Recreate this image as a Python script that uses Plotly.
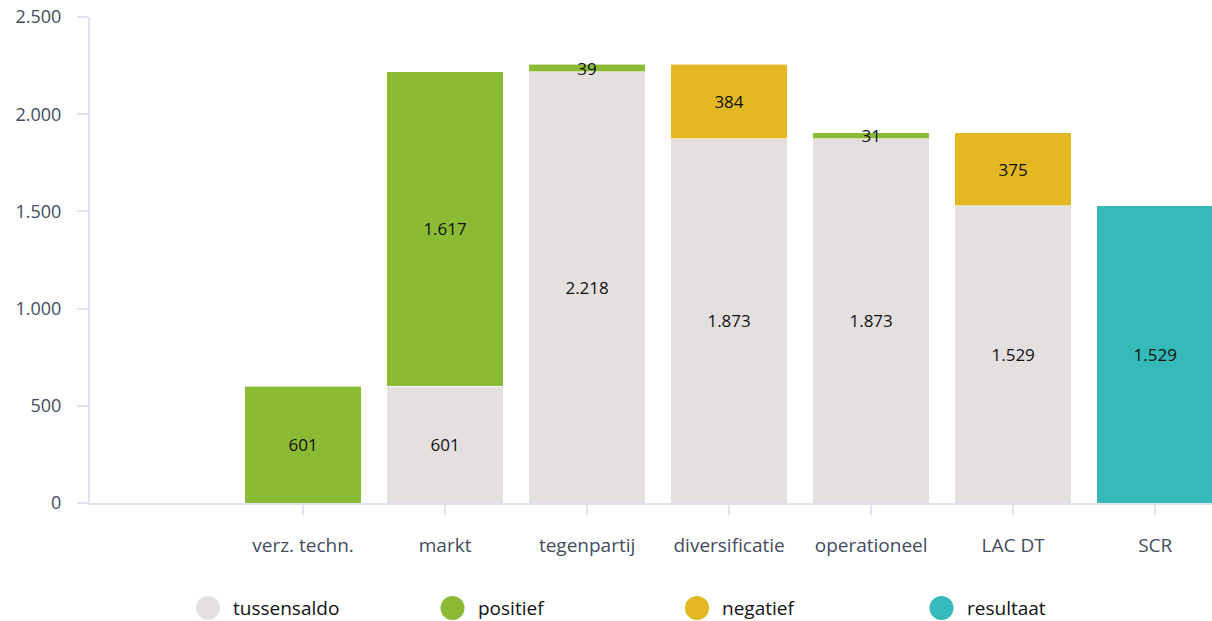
import plotly.graph_objects as go

categories = ["", "verz. techn.", "markt", "tegenpartij", "diversificatie", "operationeel", "LAC DT", "SCR"]
tussensaldo = [None, None, 601, 2218, 1873, 1873, 1529, None]
positief = [None, 601, 1617, 39, None, 31, None, None]
negatief = [None, None, None, None, 384, None, 375, None]
resultaat = [None, None, None, None, None, None, None, 1529]
y_ticks = [0, 500, 1000, 1500, 2000, 2500]

series = [
    ("tussensaldo", tussensaldo, "#e4e0e0"),
    ("positief", positief, "#8bba35"),
    ("negatief", negatief, "#e3b823"),
    ("resultaat", resultaat, "#35b9b9"),
]

FONT = "Open Sans"
x_pos = list(range(len(categories)))

fig = go.Figure()
for name, vals, color in series:
    fig.add_trace(go.Bar(
        x=x_pos, y=vals, name=name,
        marker=dict(color=color, line=dict(color="rgba(255,255,255,0.6)", width=1)),
        texttemplate="%{y:,}", textposition="inside", insidetextanchor="middle",
        constraintext="none", textangle=0,
        textfont=dict(family=FONT, size=17, color="#111111"),
        showlegend=False, hoverinfo="skip",
    ))

axis_col = "#dfe2ef"
fig.update_layout(
    width=1212, height=621,
    margin=dict(l=90, r=0, t=17, b=118),
    paper_bgcolor="white", plot_bgcolor="white",
    barmode="stack", bargap=0.18,
    separators=",.",
    font=dict(family=FONT),
    xaxis=dict(
        range=[-0.5, 7.4],
        tickmode="array", tickvals=x_pos[1:], ticktext=categories[1:],
        showline=True, linecolor=axis_col, linewidth=2,
        ticks="outside", ticklen=10, tickcolor=axis_col, tickwidth=2,
        ticklabelstandoff=14,
        tickfont=dict(family=FONT, size=19, color="#434d5c"),
        showgrid=False, zeroline=False,
    ),
    yaxis=dict(
        range=[0, 2500],
        tickmode="array", tickvals=y_ticks,
        tickformat=",",
        showline=True, linecolor=axis_col, linewidth=2,
        ticks="outside", ticklen=11, tickcolor=axis_col, tickwidth=2,
        ticklabelstandoff=12,
        tickfont=dict(family=FONT, size=18, color="#434d5c"),
        showgrid=False, zeroline=False,
    ),
)

# custom legend with large circles
plot_w = 1212 - 90
plot_h = 621 - 17 - 118
leg_y_px = 608
leg_start_px = 208
leg_step_px = 244.5
for i, (name, vals, color) in enumerate(series):
    cx = (leg_start_px + i * leg_step_px - 90) / plot_w
    cy = (503 - leg_y_px) / plot_h
    fig.add_shape(
        type="circle", xref="paper", yref="paper",
        xsizemode="pixel", ysizemode="pixel",
        xanchor=cx, yanchor=cy,
        x0=-12, x1=12, y0=-12, y1=12,
        fillcolor=color, line=dict(width=0),
    )
    fig.add_annotation(
        x=cx, y=cy, xref="paper", yref="paper",
        xanchor="left", yanchor="middle", xshift=23,
        text=name, showarrow=False,
        font=dict(family=FONT, size=19, color="#111111"),
    )

fig.write_html("out.html")
